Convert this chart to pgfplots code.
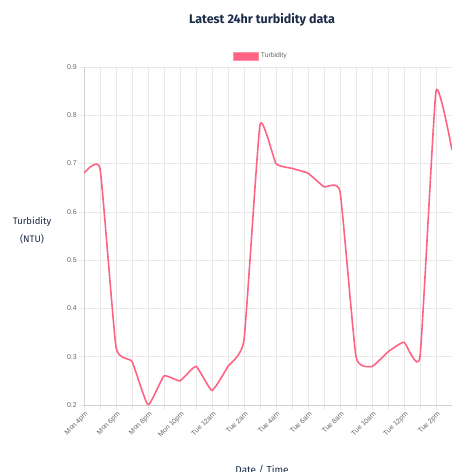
\documentclass[border=0pt]{standalone}
\usepackage{fontspec}
\setmainfont{Liberation Sans}
\newfontfamily\titlefont{Fira Sans}
\usepackage{pgfplots}
\pgfplotsset{compat=1.18}
\definecolor{linepink}{HTML}{FF6384}
\definecolor{navy}{HTML}{1B2B48}
\definecolor{tickgray}{HTML}{666666}
\definecolor{gridgray}{HTML}{E8E8E8}
\definecolor{axisgray}{HTML}{D0D0D0}
\begin{document}
\begin{tikzpicture}[x=1pt,y=1pt]
\path[use as bounding box] (0,0) rectangle (452,472);
\begin{axis}[
  at={(84pt,67pt)}, anchor=south west,
  scale only axis, width=368pt, height=338pt,
  xmin=0, xmax=23, ymin=0.2, ymax=0.9,
  xtick={0,2,...,22},
  minor xtick={1,3,...,23},
  xticklabels={Mon 4pm,Mon 6pm,Mon 8pm,Mon 10pm,Tue 12am,Tue 2am,Tue 4am,Tue 6am,Tue 8am,Tue 10am,Tue 12pm,Tue 2pm},
  ytick={0.2,0.3,...,0.9},
  yticklabel style={/pgf/number format/fixed,/pgf/number format/precision=1},
  /pgf/number format/assume math mode=true,
  tick label style={font=\fontsize{7}{8}\selectfont, text=tickgray},
  xticklabel style={rotate=45, anchor=north east, inner sep=1pt, xshift=1pt},
  yticklabel style={inner sep=1pt, xshift=-1pt},
  grid=both, major grid style={gridgray, line width=0.6pt}, minor grid style={gridgray, line width=0.6pt},
  axis lines*=left, axis line style={axisgray, line width=0.7pt},
  tick align=outside, major tick length=5pt, minor tick length=5pt,
  tick style={gridgray, line width=0.6pt},
  clip=true,
  legend style={at={(0.481,1.016)}, anchor=south, draw=none, fill=none,
    font=\fontsize{6.8}{7}\selectfont\color{tickgray}, inner sep=0pt,
    legend cell align=left},
  legend image code/.code={\draw[fill=linepink, draw=linepink!70, line width=0.6pt] (0pt,-4pt) rectangle (25pt,4pt);},
]
\addplot[linepink, line width=1.6pt, smooth, tension=0.25] coordinates {
(0,0.68) (1,0.69) (2,0.32) (3,0.29) (4,0.20) (5,0.26) (6,0.25) (7,0.28)
(8,0.23) (9,0.28) (10,0.335) (11,0.78) (12,0.70) (13,0.69) (14,0.68) (15,0.652)
(16,0.642) (17,0.30) (18,0.28) (19,0.31) (20,0.33) (21,0.30) (22,0.85) (23,0.728)
};
\addlegendentry{Turbidity}
\end{axis}
\node[font=\titlefont\bfseries\fontsize{12.5}{14}\selectfont, text=navy] at (262,452) {Latest 24hr turbidity data};
\node[font=\titlefont\fontsize{9.5}{10}\selectfont, text=navy] at (32,250) {Turbidity};
\node[font=\titlefont\fontsize{9.5}{10}\selectfont, text=navy] at (32,233) {(NTU)};
\node[font=\titlefont\fontsize{10}{11}\selectfont, text=navy, anchor=north] at (262,10) {Date / Time};
\end{tikzpicture}
\end{document}
